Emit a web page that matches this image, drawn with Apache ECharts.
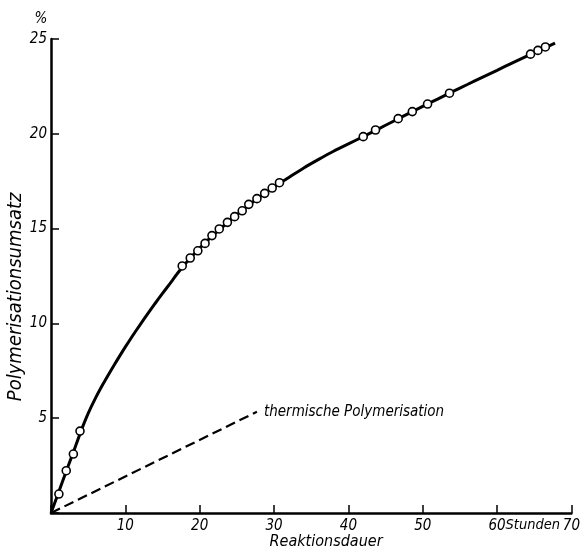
<!DOCTYPE html>
<html><head><meta charset="utf-8">
<script src="https://cdn.jsdelivr.net/npm/echarts@6/dist/echarts.min.js"></script>
<style>html,body{margin:0;padding:0;background:#fff}#c{width:583px;height:550px}</style>
</head><body><div id="c"></div>
<script>
// ---- data ----
const xTickLabels = ['10','20','30','40','50','60','70'];
const yTickLabels = ['5','10','15','20','25'];
const measX = [1.06, 2.05, 3.01, 3.9, 17.65, 18.73, 19.75, 20.72, 21.65, 22.63, 23.73, 24.7, 25.72, 26.6, 27.7, 28.74, 29.75, 30.73, 42.0, 43.65, 46.7, 48.6, 50.65, 53.6, 64.5, 65.5, 66.5];
const measY = [1.0, 2.23, 3.11, 4.32, 13.03, 13.45, 13.83, 14.22, 14.63, 14.98, 15.33, 15.63, 15.94, 16.28, 16.58, 16.86, 17.14, 17.42, 19.85, 20.2, 20.8, 21.17, 21.57, 22.14, 24.2, 24.4, 24.58];
const curveX = [0, 1, 2, 3, 4, 5, 6, 7, 8, 9, 10, 11, 12, 13, 14, 15, 16, 17, 18, 19, 20, 22, 24, 26, 28, 30, 32, 34, 36, 38, 40, 42, 44, 46, 48, 50, 52, 54, 56, 58, 60, 62, 64, 66, 67.8];
const curveY = [0, 1.07, 2.15, 3.2, 4.28, 5.25, 6.07, 6.8, 7.48, 8.13, 8.76, 9.36, 9.94, 10.5, 11.05, 11.58, 12.1, 12.63, 13.12, 13.55, 13.97, 14.72, 15.4, 16.05, 16.65, 17.2, 17.7, 18.2, 18.65, 19.08, 19.47, 19.85, 20.25, 20.65, 21.05, 21.45, 21.83, 22.22, 22.6, 22.98, 23.35, 23.73, 24.1, 24.45, 24.78];
const thermX = [0, 27.7];
const thermY = [0, 5.34];
const thermLabel = 'thermische Polymerisation';
const xName = 'Reaktionsdauer';
const xUnit = 'Stunden';
const yName = 'Polymerisationsumsatz';
const yUnit = '%';

const FF = '"DejaVu Sans Condensed","Liberation Sans Narrow","DejaVu Sans",sans-serif';
const zip = (a, b) => a.map((v, i) => [v, b[i]]);

const chart = echarts.init(document.getElementById('c'));
const axisCommon = {
  type: 'value',
  axisLine: { show: true, onZero: false, lineStyle: { color: '#000', width: 2.5 } },
  axisTick: { show: true, inside: true, length: 8, lineStyle: { color: '#000', width: 1.5 } },
  splitLine: { show: false }
};
chart.setOption({
  animation: false,
  backgroundColor: '#fff',
  grid: { left: 51, right: 5, top: 39, bottom: 37, containLabel: false },
  xAxis: Object.assign({}, axisCommon, {
    min: 0, max: 70, interval: 10,
    axisLabel: {
      margin: 6, color: '#000', fontStyle: 'italic', fontFamily: FF, fontSize: 15,
      formatter: v => { const i = xTickLabels.indexOf(String(v)); return i >= 0 ? xTickLabels[i] : ''; }
    }
  }),
  yAxis: Object.assign({}, axisCommon, {
    min: 0, max: 25, interval: 5,
    axisLabel: {
      margin: 4, color: '#000', fontStyle: 'italic', fontFamily: FF, fontSize: 15,
      formatter: v => { const i = yTickLabels.indexOf(String(v)); return i >= 0 ? yTickLabels[i] : ''; }
    }
  }),
  series: [
    {
      type: 'line', data: zip(curveX, curveY), smooth: 0.2, showSymbol: false,
      lineStyle: { color: '#000', width: 3 }, z: 2
    },
    {
      type: 'line', data: zip(thermX, thermY), showSymbol: false,
      lineStyle: { color: '#000', width: 2.2, type: [10, 5] }, z: 2
    },
    {
      type: 'scatter', data: zip(measX, measY), symbol: 'circle', symbolSize: 8,
      itemStyle: { color: '#fff', borderColor: '#000', borderWidth: 1.6, opacity: 1 }, z: 3
    }
  ]
});

const px = (x, y) => chart.convertToPixel({ gridIndex: 0 }, [x, y]);
const pTherm = px(thermX[1], thermY[1]);
const pUnitX = px(64.8, 0);
const pXName = px(37, 0);
const pYName = px(0, 11.4);
const pTop = px(0, 25);
const fnt = s => 'italic ' + s + 'px ' + FF;
chart.setOption({
  graphic: [
    { type: 'text', x: pTherm[0] + 7, y: pTherm[1], style: { text: thermLabel, font: fnt(15), fill: '#000', align: 'left', verticalAlign: 'middle' } },
    { type: 'text', x: pUnitX[0], y: pUnitX[1] + 12, style: { text: xUnit, font: fnt(14.5), fill: '#000', align: 'center', verticalAlign: 'middle' } },
    { type: 'text', x: pXName[0], y: pXName[1] + 29, style: { text: xName, font: fnt(16), fill: '#000', align: 'center', verticalAlign: 'middle' } },
    { type: 'text', x: pYName[0] - 35, y: pYName[1], rotation: Math.PI / 2, style: { text: yName, font: fnt(20), fill: '#000', align: 'center', verticalAlign: 'middle' } },
    { type: 'text', x: pTop[0] - 10, y: pTop[1] - 20, style: { text: yUnit, font: fnt(15), fill: '#000', align: 'center', verticalAlign: 'middle' } }
  ]
});
</script>
</body></html>
